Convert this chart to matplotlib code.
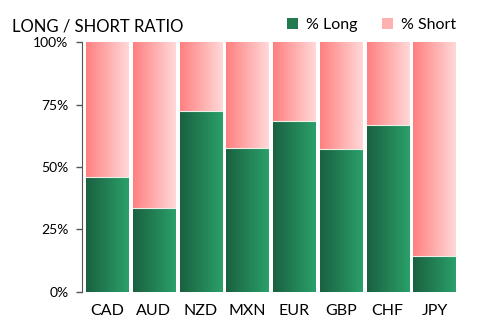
import matplotlib
matplotlib.use("Agg")
import matplotlib.pyplot as plt
import numpy as np
from matplotlib.colors import LinearSegmentedColormap
from matplotlib.patches import Patch

plt.rcParams['font.family'] = ['Lato', 'DejaVu Sans']

currencies = ['CAD', 'AUD', 'NZD', 'MXN', 'EUR', 'GBP', 'CHF', 'JPY']
pct_long = [45.8, 33.7, 72.6, 57.6, 68.3, 57.1, 66.8, 14.3]
pct_short = [100 - v for v in pct_long]
yticks = [0, 25, 50, 75, 100]

green_cm = LinearSegmentedColormap.from_list('g', ['#1a6140', '#2aa06a'])
pink_cm = LinearSegmentedColormap.from_list('p', ['#ff8080', '#ffd8d8'])
grad = np.linspace(0, 1, 64).reshape(1, -1)

W, H = 478, 332
fig = plt.figure(figsize=(W / 100, H / 100), dpi=100)
ax = fig.add_axes([83.6 / W, (H - 291.7) / H, (457.9 - 83.6) / W, (291.7 - 42.3) / H])

x = np.arange(len(currencies))
width = 0.9
long_bars = ax.bar(x, pct_long, width, color='none', edgecolor='none')
short_bars = ax.bar(x, pct_short, width, bottom=pct_long, color='none', edgecolor='none')

# fill each bar with a left-to-right gradient
for bars, cm in ((long_bars, green_cm), (short_bars, pink_cm)):
    for b in bars:
        x0, y0 = b.get_x(), b.get_y()
        im = ax.imshow(grad, cmap=cm, aspect='auto', interpolation='bicubic',
                       extent=[x0, x0 + b.get_width(), y0, y0 + b.get_height()], zorder=2)
        im.set_clip_path(b)

# thin light line where long meets short
for b in short_bars:
    ax.plot([b.get_x(), b.get_x() + b.get_width()], [b.get_y()] * 2,
            color='#e8f0ea', lw=0.8, zorder=3)

ax.set_xlim(-0.5, len(currencies) - 0.5)
ax.set_ylim(0, 100)
ax.set_xticks(x)
ax.set_xticklabels(currencies, fontsize=11.5)
ax.set_yticks(yticks)
ax.set_yticklabels([f'{t}%' for t in yticks], fontsize=12.5)
ax.tick_params(axis='x', length=0, pad=9)
ax.tick_params(axis='y', length=4, width=1, color='#555555', pad=6)
for s in ['top', 'right', 'bottom']:
    ax.spines[s].set_visible(False)
ax.spines['left'].set_color('#555555')
ax.spines['left'].set_position(('outward', 1))

fig.text(12 / W, 1 - 26 / H, 'LONG / SHORT RATIO', fontsize=12, va='center', ha='left')

handles = [Patch(facecolor='#217a50', edgecolor='none'),
           Patch(facecolor='#ffb0b0', edgecolor='none')]
fig.legend(handles, ['% Long', '% Short'], loc='center right',
           bbox_to_anchor=(464 / W, 1 - 25 / H), ncol=2, frameon=False,
           fontsize=11.5, handlelength=0.7, handleheight=0.7, handletextpad=0.5,
           columnspacing=1.5, borderpad=0)

fig.savefig('out.png', dpi=100)
